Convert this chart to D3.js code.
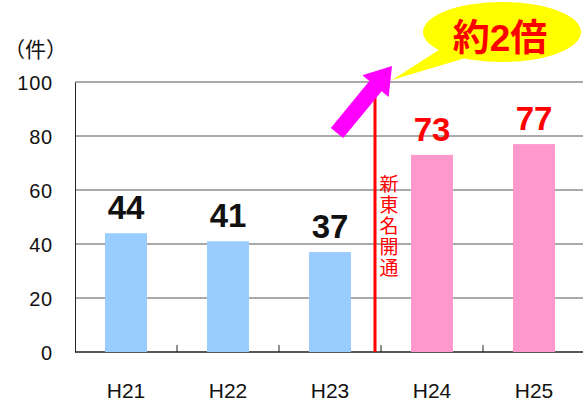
<!DOCTYPE html>
<html>
<head>
<meta charset="utf-8">
<script src="https://cdn.jsdelivr.net/npm/d3@7"></script>
<style>
  body { margin: 0; background: #fff; }
  text { font-family: "Liberation Sans", Arial, "Noto Sans CJK JP", sans-serif; }
</style>
</head>
<body>
<div id="chart"></div>
<script>
// chart data
const years = ["H21", "H22", "H23", "H24", "H25"];
const counts = [44, 41, 37, 73, 77];
const afterOpening = [false, false, false, true, true];
const yTicks = [0, 20, 40, 60, 80, 100];

const width = 583, height = 406;
const margin = { top: 82, right: -2, bottom: 54, left: 75 };

const svg = d3.select("#chart").append("svg")
    .attr("width", width)
    .attr("height", height);

const x = d3.scaleBand()
    .domain(years)
    .range([margin.left, width - margin.right])
    .paddingInner(0)
    .paddingOuter(0);

const y = d3.scaleLinear()
    .domain([0, 100])
    .range([height - margin.bottom, margin.top]);

// gridlines
svg.append("g")
    .selectAll("line")
    .data(yTicks.filter(d => d > 0))
    .join("line")
    .attr("x1", margin.left)
    .attr("x2", width)
    .attr("y1", d => y(d))
    .attr("y2", d => y(d))
    .attr("stroke", d => d === 100 ? "#8c8c8c" : "#555")
    .attr("stroke-width", d => d === 100 ? 1.5 : 1);

// y axis
const yAxis = svg.append("g")
    .attr("transform", `translate(${margin.left},0)`)
    .call(d3.axisLeft(y).tickValues(yTicks).tickSize(0).tickPadding(22));
yAxis.select(".domain").attr("stroke", "#222");
yAxis.selectAll("text")
    .attr("font-size", 20)
    .attr("letter-spacing", 0.8)
    .attr("fill", "#111")
    .attr("dy", "0.36em");

// x axis with ticks pointing up between categories
const xBottom = y(0);
svg.append("line")
    .attr("x1", margin.left).attr("x2", width)
    .attr("y1", xBottom).attr("y2", xBottom)
    .attr("stroke", "#222").attr("stroke-width", 1.5);
svg.append("g")
    .selectAll("line")
    .data(years.slice(1))
    .join("line")
    .attr("x1", d => x(d)).attr("x2", d => x(d))
    .attr("y1", xBottom).attr("y2", xBottom - 7)
    .attr("stroke", "#222");
svg.append("g")
    .selectAll("text")
    .data(years)
    .join("text")
    .attr("x", d => x(d) + x.bandwidth() / 2)
    .attr("y", 398)
    .attr("text-anchor", "middle")
    .attr("font-size", 21)
    .attr("fill", "#111")
    .text(d => d);

// bars
const barW = 42;
svg.append("g")
    .selectAll("rect")
    .data(counts)
    .join("rect")
    .attr("x", (d, i) => x(years[i]) + x.bandwidth() / 2 - barW / 2)
    .attr("y", d => y(d))
    .attr("width", barW)
    .attr("height", d => y(0) - y(d))
    .attr("fill", (d, i) => afterOpening[i] ? "#ff99cc" : "#99ccff");

// value labels
svg.append("g")
    .selectAll("text")
    .data(counts)
    .join("text")
    .attr("x", (d, i) => x(years[i]) + x.bandwidth() / 2)
    .attr("y", d => y(d) - 14)
    .attr("text-anchor", "middle")
    .attr("font-size", 33)
    .attr("font-weight", "bold")
    .attr("fill", (d, i) => afterOpening[i] ? "#ff0000" : "#111")
    .text(d => d);

// unit label
svg.append("text")
    .attr("x", 4)
    .attr("y", 57)
    .attr("font-size", 21)
    .attr("font-family", "Noto Sans CJK JP")
    .attr("fill", "#111")
    .text("（件）");

// opening marker line
const markX = 375;
svg.append("line")
    .attr("x1", markX).attr("x2", markX)
    .attr("y1", 92).attr("y2", xBottom)
    .attr("stroke", "#ff0000")
    .attr("stroke-width", 3);

svg.append("text")
    .attr("x", 389)
    .attr("y", 174)
    .attr("font-size", 19)
    .attr("style", "writing-mode: vertical-rl; font-family: 'Noto Sans CJK JP'")
    .attr("letter-spacing", 2)
    .attr("fill", "#ff0000")
    .text("新東名開通");

// callout bubble
svg.append("path")
    .attr("d", "M445,46 L392,80 L472,56 Z")
    .attr("fill", "#ffff00");
svg.append("ellipse")
    .attr("cx", 502).attr("cy", 32)
    .attr("rx", 79).attr("ry", 30)
    .attr("fill", "#ffff00");
svg.append("text")
    .attr("x", 500)
    .attr("y", 51)
    .attr("text-anchor", "middle")
    .attr("font-size", 37)
    .attr("font-weight", "bold")
    .attr("font-family", "Noto Sans CJK JP")
    .attr("fill", "#ff0000")
    .text("約2倍");

// magenta arrow
const ax0 = 337, ay0 = 133, ax1 = 392, ay1 = 66;
const ang = Math.atan2(ay1 - ay0, ax1 - ax0);
const len = Math.hypot(ax1 - ax0, ay1 - ay0);
const arrow = svg.append("g")
    .attr("transform", `translate(${ax0},${ay0}) rotate(${ang * 180 / Math.PI})`);
arrow.append("path")
    .attr("d", `M0,-8 L${len - 26},-8 L${len - 26},-17 L${len},0 L${len - 26},17 L${len - 26},8 L0,8 Z`)
    .attr("fill", "#ff00ff");
</script>
</body>
</html>
